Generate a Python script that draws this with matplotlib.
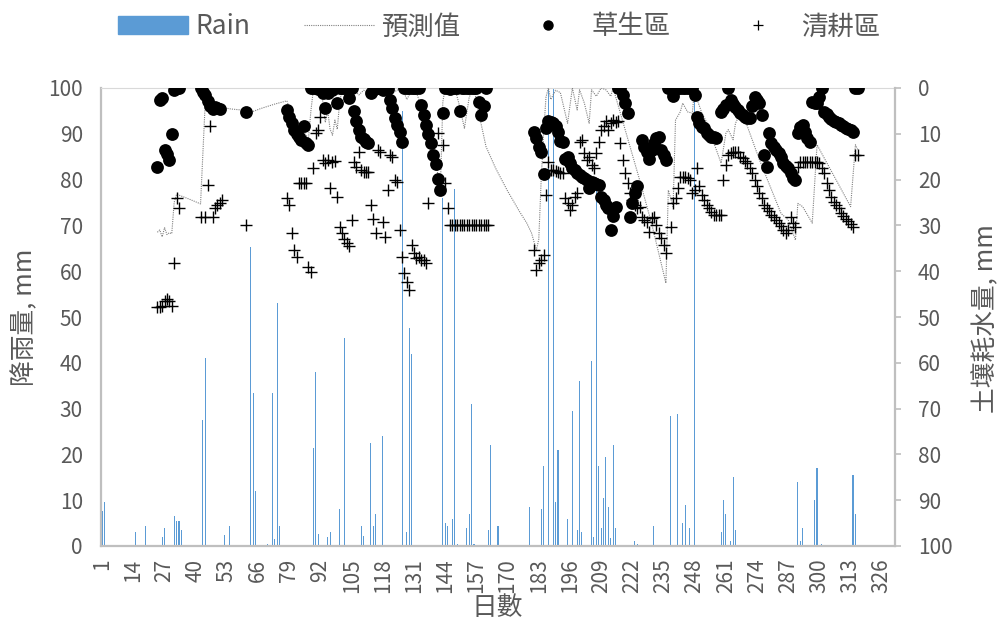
import matplotlib
matplotlib.use("Agg")
import matplotlib.pyplot as plt
import matplotlib.patches as mpatches
from matplotlib.lines import Line2D

plt.rcParams["font.family"] = ["Noto Sans CJK TC", "DejaVu Sans"]

TEXT = "#595959"
GRID = "#BFBFBF"
BLUE = "#5B9BD5"

# daily rain (left axis, mm)
rain_day = [1, 2, 15, 19, 23, 26, 27, 31, 32, 33, 34, 43, 44, 52, 54, 58, 62, 63, 64, 65,
            66, 70, 72, 73, 74, 75, 89, 90, 91, 95, 96, 100, 102, 109, 110, 113, 114, 115, 116, 118,
            126, 128, 129, 130, 143, 144, 145, 147, 148, 149, 153, 154, 155, 156, 162, 163, 166, 179, 184, 185,
            187, 189, 190, 191, 195, 197, 199, 200, 201, 205, 206, 207, 208, 209, 210, 211, 212, 213, 214, 215,
            223, 224, 231, 238, 241, 243, 244, 246, 248, 259, 260, 261, 263, 264, 265, 291, 292, 293, 298, 299,
            301, 314, 315]
rain_mm = [7.7, 9.6, 3.0, 4.4, 0.3, 2.0, 4.0, 6.5, 5.5, 5.5, 3.5, 27.5, 41.0, 2.4, 4.4, 0.3, 0.3, 65.3, 33.5, 12.0,
           0.3, 0.5, 33.5, 1.5, 53.0, 4.4, 21.5, 38.0, 2.6, 2.0, 3.0, 8.0, 45.5, 4.4, 2.2, 22.5, 4.4, 7.0, 0.3, 24.0,
           95.0, 3.0, 47.5, 42.0, 76.0, 5.0, 4.4, 6.0, 78.0, 0.5, 4.0, 7.0, 31.0, 0.5, 3.5, 22.0, 4.4, 8.5, 8.0, 17.5,
           100.0, 100.0, 9.5, 21.0, 6.0, 29.5, 3.5, 36.0, 3.0, 40.4, 2.0, 78.0, 17.5, 4.0, 10.5, 19.5, 8.5, 1.7, 22.0, 4.0,
           1.0, 0.5, 4.4, 28.4, 28.8, 5.0, 9.0, 4.0, 99.0, 3.0, 10.0, 7.0, 1.0, 15.0, 3.5, 14.0, 1.0, 4.0, 10.0, 17.0,
           0.5, 15.5, 7.0]

# predicted soil water deficit (right axis, mm)
pred_day = [24, 25, 26, 27, 28, 29, 30, 31, 32, 37, 42, 43, 44, 47, 50, 55, 59, 62, 67, 73,
            78, 80, 84, 87, 88, 89, 91, 92, 93, 94, 95, 96, 97, 98, 99, 100, 101, 102, 104, 106,
            108, 110, 112, 114, 116, 118, 120, 122, 124, 126, 128, 130, 132, 134, 136, 138, 140, 142, 143, 144,
            146, 148, 150, 152, 154, 156, 158, 161, 165, 170, 175, 178, 180, 182, 183, 184, 185, 186, 187, 188,
            190, 192, 194, 195, 197, 199, 200, 202, 204, 205, 207, 209, 211, 213, 214, 225, 230, 236, 237, 239,
            240, 242, 243, 245, 247, 248, 249, 251, 254, 256, 259, 261, 262, 264, 265, 267, 269, 275, 284, 287,
            290, 291, 293, 297, 299, 313, 315, 316]
pred_val = [31.5, 31.0, 32.5, 30.5, 32.0, 31.6, 31.8, 25.0, 23.2, 24.2, 25.3, 14.0, 2.6, 3.5, 4.2, 4.6, 4.8, 5.5, 4.5, 3.5,
            2.8, 6.0, 9.0, 11.0, 5.0, 0.5, 0.0, 0.5, 3.0, 7.5, 5.0, 9.0, 10.3, 7.0, 9.0, 3.0, 0.5, 0.0, 1.0, 0.5,
            1.5, 0.5, 1.0, 2.0, 0.5, 1.0, 0.0, 1.0, 0.5, 0.0, 2.5, 0.5, 1.0, 4.0, 8.0, 12.0, 16.5, 21.5, 3.0, 0.0,
            0.5, 0.0, 4.0, 8.8, 2.0, 0.0, 5.5, 12.8, 17.5, 22.5, 27.0, 29.5, 31.7, 35.4, 33.0, 20.0, 10.0, 2.0, 0.0, 2.5,
            0.5, 1.0, 5.5, 7.7, 0.0, 4.8, 0.4, 3.3, 7.7, 0.4, 1.8, 0.0, 0.4, 1.8, 0.0, 20.0, 29.5, 42.6, 22.3, 25.9,
            7.0, 5.2, 3.3, 5.2, 5.5, 0.0, 2.5, 5.5, 8.4, 12.0, 16.4, 9.9, 9.1, 11.3, 7.7, 5.5, 7.0, 15.7, 27.4, 28.8,
            33.2, 25.2, 25.9, 29.5, 12.4, 25.9, 12.4, 13.5]

# measured deficit, grass plot (right axis, mm)
grass_day = [24, 25, 26, 27, 28, 29, 30, 31, 32, 33,
             42, 43, 44, 45, 46, 47, 48, 49, 50, 61,
             78, 79, 80, 81, 82, 83, 84, 85, 86, 87,
             88, 89, 90, 91, 92, 93, 94, 95, 96, 97,
             98, 99, 100, 101, 102, 103, 104, 105, 106, 107,
             108, 109, 110, 111, 112, 113, 114, 115, 116, 117,
             118, 119, 120, 121, 122, 123, 124, 125, 126, 127,
             128, 129, 130, 131, 132, 133, 134, 135, 136, 137,
             138, 139, 140, 141, 142, 143, 144, 145, 146, 147,
             148, 149, 150, 151, 152, 153, 154, 155, 156, 157,
             158, 159, 160, 161,
             181, 182, 183, 184, 185, 186, 187, 188, 189, 190,
             191, 192, 193, 194, 195, 196, 197, 198, 199, 200,
             201, 202, 203, 204, 205, 206, 207, 208, 209, 210,
             211, 212, 213, 214, 215, 216, 217, 218, 219, 220,
             221, 222, 223, 224, 226, 227, 228, 229, 230, 231,
             232, 233, 234, 235, 236, 237, 238, 239, 240, 241,
             242, 243, 244, 245, 246, 247, 248, 249, 250, 251,
             252, 253, 254, 255, 256, 257, 259, 260, 261, 262,
             263, 264, 265, 266, 267, 268, 269, 270, 271, 272,
             273, 274, 275, 276, 277, 278, 279, 280, 281, 282,
             283, 284, 285, 286, 287, 288, 289, 290, 291, 292,
             293, 294, 295, 296, 297, 298, 299, 300, 301, 302,
             303, 304, 305, 306, 307, 308, 309, 310, 311, 312,
             313, 314, 315, 316]
grass_val = [17.2, 2.6, 2.2, 13.5, 14.5, 15.7, 10.0, 0.5, 0.0, 0.0,
             0.0, 0.8, 1.5, 2.8, 4.0, 4.6, 4.2, 4.4, 4.6, 5.2,
             4.8, 6.3, 7.7, 9.2, 10.0, 10.7, 11.4, 8.4, 12.1, 12.4,
             0.0, 0.0, 0.0, 0.3, 0.0, 1.2, 4.4, 1.0, 0.0, 0.5,
             0.0, 3.3, 0.0, 0.0, 0.0, 0.0, 2.2, 0.0, 5.0, 7.3,
             9.2, 10.7, 11.2, 11.7, 12.0, 1.0, 0.5, 0.0, 0.0, 0.0,
             0.5, 0.0, 0.3, 2.6, 4.4, 6.5, 8.1, 9.5, 11.7, 0.0,
             0.0, 0.0, 0.0, 0.0, 0.0, 0.0, 3.7, 5.9, 8.0, 10.0,
             12.0, 14.7, 16.5, 19.8, 22.3, 5.5, 0.0, 0.0, 0.3, 0.0,
             0.0, 0.0, 5.0, 0.0, 0.0, 0.0, 0.0, 0.0, 0.0, 0.0,
             3.0, 5.9, 4.0, 0.0,
             9.5, 11.0, 12.8, 13.9, 18.8, 8.7, 7.3, 7.5, 7.7, 8.4,
             9.5, 11.6, 11.7, 15.4, 15.0, 16.4, 17.5, 17.9, 18.6, 19.0,
             19.4, 19.7, 20.1, 21.9, 20.5, 20.8, 21.0, 21.2, 23.7, 24.5,
             25.5, 26.2, 31.0, 28.0, 25.9, 0.0, 0.0, 1.5, 3.3, 5.5,
             28.1, 25.2, 23.0, 21.5, 11.4, 12.8, 14.0, 15.4, 13.5, 12.1,
             11.0, 10.6, 13.5, 14.6, 15.7, 0.0, 0.0, 1.8, 0.0, 0.0,
             0.0, 0.0, 0.0, 0.0, 0.0, 0.0, 1.5, 6.3, 7.7, 8.5,
             8.8, 9.9, 10.3, 10.6, 10.8, 11.0, 5.2, 4.5, 3.7, 0.0,
             2.6, 3.4, 4.1, 4.8, 5.5, 5.9, 6.3, 6.5, 6.6, 4.0,
             1.9, 2.6, 3.3, 5.9, 14.6, 17.2, 9.9, 12.0, 12.8, 13.5,
             14.3, 15.0, 16.4, 17.0, 17.5, 18.6, 19.7, 20.1, 9.9, 8.5,
             8.1, 9.5, 11.0, 11.7, 3.0, 3.2, 3.3, 2.0, 0.0, 5.2,
             5.7, 6.3, 6.8, 7.3, 7.5, 7.7, 8.0, 8.4, 8.8, 9.0,
             9.2, 9.5, 0.0, 0.0]

# measured deficit, clean-tilled plot (right axis, mm)
till_day = [24, 25, 26, 27, 28, 29, 30, 31, 32, 33,
            42, 44, 45, 46, 47, 48, 49, 50, 51, 61,
            78, 79, 80, 81, 82, 83, 84, 85, 86, 87,
            88, 89, 90, 91, 92, 93, 94, 95, 96, 97,
            98, 99, 100, 101, 102, 103, 104, 105, 106, 107,
            108, 109, 110, 111, 112, 113, 114, 115, 116, 117,
            118, 119, 120, 121, 122, 123, 124, 125, 126, 127,
            128, 129, 130, 131, 132, 133, 134, 135, 136, 137,
            141, 143, 144, 145, 146, 147, 148, 149, 150, 151,
            152, 153, 154, 155, 156, 157, 158, 159, 160, 161,
            162,
            181, 182, 183, 184, 185, 186, 187, 188, 189, 190,
            191, 192, 193, 194, 195, 196, 197, 198, 199, 200,
            201, 202, 203, 204, 205, 206, 207, 208, 209, 210,
            211, 212, 213, 214, 215, 216, 217, 218, 219, 220,
            221, 222, 223, 224, 225, 226, 227, 228, 229, 230,
            231, 232, 233, 234, 235, 236, 238, 239, 240, 241,
            242, 243, 244, 245, 246, 247, 248, 249, 250, 251,
            252, 253, 254, 255, 256, 257, 258, 259, 260, 261,
            262, 263, 264, 265, 266, 267, 268, 269, 270, 271,
            272, 273, 274, 275, 276, 277, 278, 279, 280, 281,
            282, 283, 284, 285, 286, 287, 288, 289, 290, 291,
            292, 293, 294, 295, 296, 297, 298, 299, 300, 301,
            302, 303, 304, 305, 306, 307, 308, 309, 310, 311,
            312, 313, 314, 315, 316]
till_val = [47.8, 47.8, 47.5, 46.5, 46.0, 46.5, 47.5, 38.3, 24.0, 26.3,
            28.1, 28.1, 21.2, 8.4, 28.1, 26.3, 25.5, 25.1, 24.5, 30.0,
            24.0, 25.5, 31.7, 35.4, 36.8, 20.8, 20.8, 20.8, 20.8, 39.0,
            40.1, 17.5, 9.9, 9.2, 6.3, 15.7, 16.4, 15.7, 21.9, 16.1,
            15.9, 23.7, 30.3, 31.7, 33.0, 33.9, 34.6, 28.8, 16.1, 17.2,
            13.9, 17.9, 18.3, 18.3, 18.3, 25.5, 28.5, 31.7, 13.5, 14.0,
            29.2, 32.5, 22.3, 14.6, 15.1, 20.1, 20.5, 31.0, 36.8, 40.5,
            42.3, 44.1, 34.3, 36.0, 37.2, 37.0, 37.5, 37.6, 38.3, 25.2,
            9.9, 12.4, 20.8, 26.3, 30.0, 30.0, 30.0, 30.0, 30.0, 30.0,
            30.0, 30.0, 30.0, 30.0, 30.0, 30.0, 30.0, 30.0, 30.0, 30.0,
            30.0,
            35.4, 39.7, 38.3, 37.5, 36.5, 23.4, 16.1, 17.9, 17.9, 18.2,
            18.4, 18.5, 18.6, 24.1, 25.0, 26.6, 25.5, 23.7, 23.0, 11.7,
            11.4, 14.3, 15.7, 15.0, 16.8, 17.5, 14.3, 11.7, 9.2, 8.4,
            7.3, 9.2, 7.7, 7.0, 7.5, 7.3, 12.1, 15.7, 18.6, 20.8,
            23.0, 24.5, 25.5, 26.3, 25.9, 28.1, 28.8, 29.2, 31.4, 28.4,
            28.1, 30.0, 31.7, 32.8, 34.3, 36.1, 30.3, 25.2, 24.1, 21.9,
            19.4, 19.4, 19.4, 19.6, 20.1, 23.0, 22.3, 17.5, 21.5, 23.4,
            24.5, 25.5, 26.3, 27.0, 27.7, 27.7, 27.7, 27.7, 20.0, 16.8,
            14.6, 14.3, 14.0, 14.0, 14.0, 15.0, 15.3, 16.0, 16.4, 17.5,
            18.6, 20.0, 21.5, 22.9, 24.0, 25.5, 26.2, 26.9, 27.7, 28.2,
            28.8, 29.5, 30.2, 31.0, 31.7, 31.0, 28.1, 29.5, 30.3, 17.2,
            16.1, 16.1, 16.1, 16.1, 16.1, 16.1, 16.1, 16.1, 16.4, 17.5,
            18.6, 20.8, 22.3, 23.7, 24.8, 25.5, 26.2, 27.3, 28.0, 28.5,
            29.1, 29.7, 30.3, 14.6, 14.6]

x_ticks = list(range(1, 327, 13))

fig = plt.figure(figsize=(10.03, 6.22), dpi=100)
ax = fig.add_axes([101 / 1003, 1 - 546 / 622, 794 / 1003, 458 / 622])
ax2 = ax.twinx()

ax.bar(rain_day, rain_mm, width=0.45, color=BLUE, linewidth=0, zorder=1)
ax.set_xlim(0.5, 331.5)
ax.set_ylim(0, 100)
ax.set_yticks(range(0, 101, 10))
ax.set_xticks(x_ticks)
ax.set_xticklabels([str(t) for t in x_ticks], rotation=90)
ax.tick_params(axis="x", length=0, pad=9, labelsize=15, labelcolor=TEXT)
ax.tick_params(axis="y", length=0, pad=13, labelsize=15, labelcolor=TEXT)

ax2.set_ylim(100, 0)
ax2.set_yticks(range(0, 101, 10))
ax2.tick_params(axis="y", direction="out", length=4.5, width=1.2, color=GRID,
                pad=12, labelsize=15, labelcolor=TEXT)

ax2.plot(pred_day, pred_val, color="#808080", linewidth=0.8, linestyle=(0, (1, 1)), zorder=2)
ax2.scatter(grass_day, grass_val, s=85, color="black", marker="o", linewidths=0, zorder=3)
ax2.scatter(till_day, till_val, s=80, color="black", marker="+", linewidths=1.0, zorder=4)

for name in ["left", "bottom"]:
    ax.spines[name].set_color(GRID)
    ax.spines[name].set_linewidth(1.6)
ax.spines["top"].set_color("#D9D9D9")
ax.spines["top"].set_linewidth(0.8)
ax.spines["right"].set_visible(False)
for name in ["left", "bottom", "top"]:
    ax2.spines[name].set_visible(False)
ax2.spines["right"].set_color(GRID)
ax2.spines["right"].set_linewidth(1.6)

ax.set_xlabel("日數", fontsize=18.5, color=TEXT)
ax.xaxis.label.set_va("center")
ax.xaxis.set_label_coords(0.499, -0.135)
ax.set_ylabel("降雨量, mm", fontsize=18.5, color=TEXT)
ax.yaxis.label.set_va("center")
ax.yaxis.set_label_coords(-0.096, 0.5)
ax2.set_ylabel("土壤耗水量, mm", fontsize=18.5, color=TEXT, rotation=90)
ax2.yaxis.label.set_va("center")
ax2.yaxis.set_label_coords(1.115, 0.497)

handles = [
    mpatches.Patch(color=BLUE, label="Rain"),
    Line2D([], [], color="#808080", linewidth=0.8, linestyle=(0, (1, 1)), label="預測值"),
    Line2D([], [], color="black", marker="o", markersize=6.5, linestyle="none", label="草生區"),
    Line2D([], [], color="black", marker="+", markersize=6.5, markeredgewidth=0.9,
           linestyle="none", label="清耕區"),
]
fig.legend(handles=handles, loc="center", bbox_to_anchor=(499 / 1003, 1 - 27 / 622), ncol=4,
           frameon=False, fontsize=19, labelcolor=TEXT, handlelength=2.65, handleheight=0.65,
           handletextpad=0.3, columnspacing=2.0)

fig.savefig("out.png", dpi=100)
